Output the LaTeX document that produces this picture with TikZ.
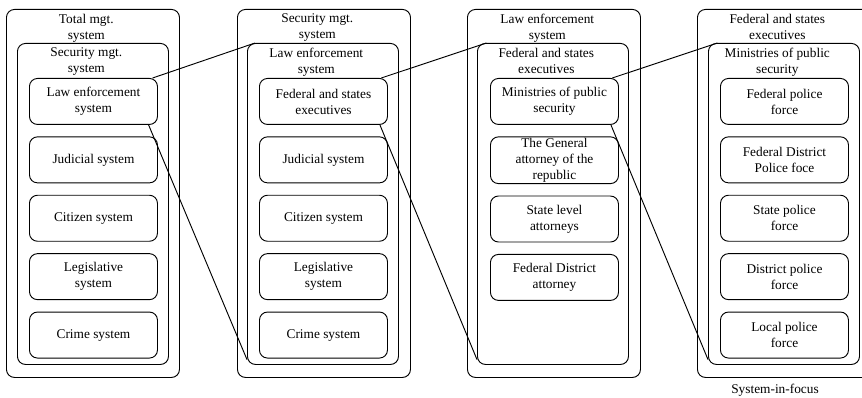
\documentclass[tikz,border=0pt]{standalone}
\usepackage{fontspec}
\setmainfont{Liberation Serif}
\usetikzlibrary{positioning}

\tikzset{
  sysbox/.style={draw, rounded corners=6pt, line width=0.7pt, inner sep=0pt, anchor=north west},
  outerbox/.style={sysbox, minimum width=129.75pt, minimum height=276pt},
  innerbox/.style={sysbox, minimum width=113.25pt, minimum height=240.75pt},
  subbox/.style={draw, rounded corners=6pt, line width=0.7pt, align=center,
    minimum width=96pt, minimum height=34.5pt, inner sep=1pt},
  boxtitle/.style={anchor=north, align=center, inner sep=0pt, xshift=-5pt, yshift=-3.5pt},
  link/.style={line width=0.7pt}
}

\begin{document}
\begin{tikzpicture}[x=0.75pt, y=-0.75pt, font=\fontsize{10}{12}\selectfont]
        \useasboundingbox (0,0) rectangle (862,398);
        \clip (0,0) rectangle (862,398);

        % total mgt. system
        \node[outerbox] (o1) at (6,9) {};
        \node[innerbox] (i1) at (17,43) {};
        \node[boxtitle] (t1) at (o1.north) {Total mgt.\\system};
        \node[boxtitle] (u1) at (i1.north) {Security mgt.\\system};
        \node[subbox, anchor=north west] (a1) at (29,78) {Law enforcement\\system};
        \node[subbox, below=8.6pt of a1] (a2) {Judicial system};
        \node[subbox, below=8.6pt of a2] (a3) {Citizen system};
        \node[subbox, below=8.6pt of a3] (a4) {Legislative\\system};
        \node[subbox, below=8.6pt of a4] (a5) {Crime system};

        % security mgt. system
        \node[outerbox] (o2) at (237,9) {};
        \node[innerbox] (i2) at (247,43) {};
        \node[boxtitle] (t2) at (o2.north) {Security mgt.\\system};
        \node[boxtitle] (u2) at (i2.north) {Law enforcement\\system};
        \node[subbox, anchor=north west] (b1) at (259,78) {Federal and states\\executives};
        \node[subbox, below=8.6pt of b1] (b2) {Judicial system};
        \node[subbox, below=8.6pt of b2] (b3) {Citizen system};
        \node[subbox, below=8.6pt of b3] (b4) {Legislative\\system};
        \node[subbox, below=8.6pt of b4] (b5) {Crime system};

        % law enforcement system
        \node[outerbox] (o3) at (467,9) {};
        \node[innerbox] (i3) at (477,43) {};
        \node[boxtitle] (t3) at (o3.north) {Law enforcement\\system};
        \node[boxtitle] (u3) at (i3.north) {Federal and states\\executives};
        \node[subbox, anchor=north west] (c1) at (490,78) {Ministries of public\\security};
        \node[subbox, below=8.6pt of c1] (c2) {The General\\attorney of the\\republic};
        \node[subbox, below=8.6pt of c2] (c3) {State level\\attorneys};
        \node[subbox, below=8.6pt of c3] (c4) {Federal District\\attorney};

        % federal and states executives
        \node[outerbox] (o4) at (697,9) {};
        \node[innerbox] (i4) at (708,43) {};
        \node[boxtitle] (t4) at (o4.north) {Federal and states\\executives};
        \node[boxtitle] (u4) at (i4.north) {Ministries of public\\security};
        \node[subbox, anchor=north west] (d1) at (720,78) {Federal police\\force};
        \node[subbox, below=8.6pt of d1] (d2) {Federal District\\Police foce};
        \node[subbox, below=8.6pt of d2] (d3) {State police\\force};
        \node[subbox, below=8.6pt of d3] (d4) {District police\\force};
        \node[subbox, below=8.6pt of d4] (d5) {Local police\\force};

        \node (focus) at (775,390) {System-in-focus};

        % zoom lines
        \draw[link] ([xshift=-4pt]a1.north east) -- ([xshift=6pt]i2.north west);
        \draw[link] ([xshift=-7pt]a1.south east) -- ([yshift=4pt]i2.south west);
        \draw[link] ([xshift=-5pt]b1.north east) -- ([xshift=7pt]i3.north west);
        \draw[link] ([xshift=-6pt]b1.south east) -- ([yshift=4pt]i3.south west);
        \draw[link] ([xshift=-5pt]c1.north east) -- ([xshift=7pt]i4.north west);
        \draw[link] ([xshift=-6pt]c1.south east) -- ([yshift=4pt]i4.south west);
\end{tikzpicture}
\end{document}
